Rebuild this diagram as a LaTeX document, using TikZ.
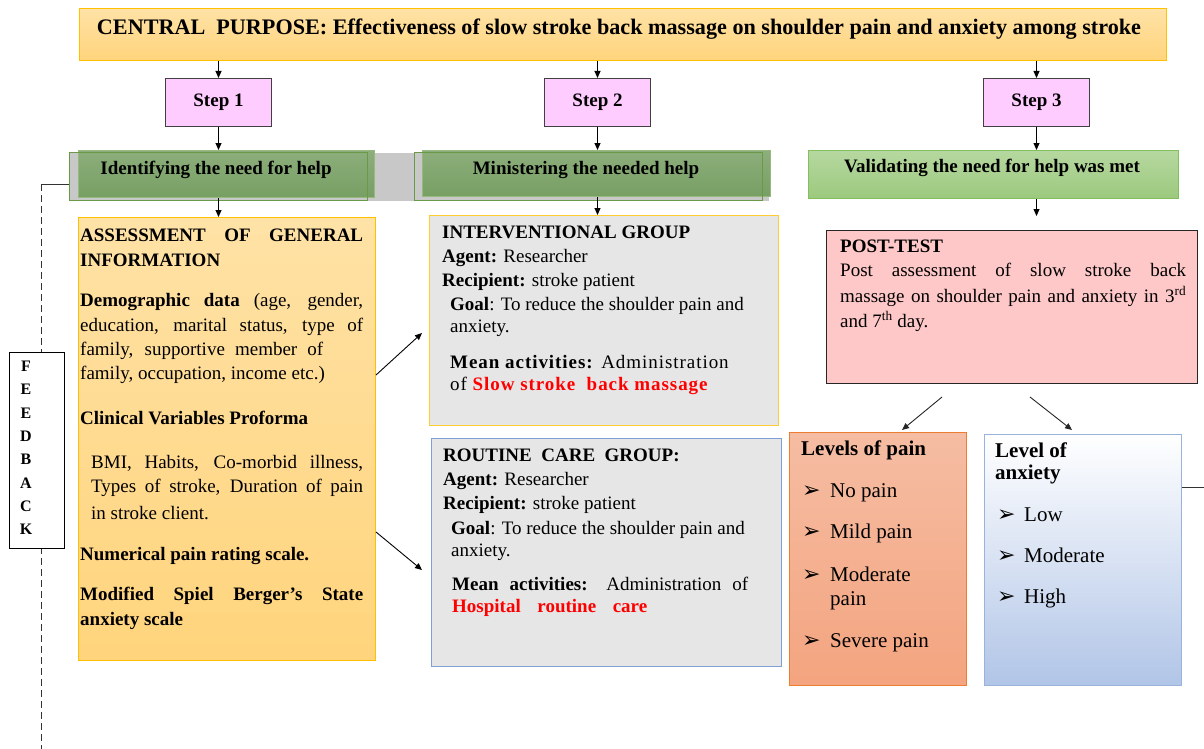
\documentclass[tikz,border=0pt]{standalone}
\usepackage{fontspec}
\setmainfont{Liberation Serif}
\newfontfamily\symfont{DejaVu Sans}
\newfontfamily\lspfont[LetterSpace=5]{Liberation Serif}
\usetikzlibrary{arrows.meta,calc}
\definecolor{orT}{HTML}{FFE2A6}
\definecolor{orB}{HTML}{FFD47C}
\definecolor{orLine}{HTML}{FFC000}
\definecolor{pinkFill}{HTML}{FFCCFF}
\definecolor{grT}{HTML}{8DAE7C}
\definecolor{grB}{HTML}{779F63}
\definecolor{grLine}{HTML}{6A9A48}
\definecolor{lgT}{HTML}{B6D8A0}
\definecolor{lgB}{HTML}{9CC97E}
\definecolor{lgLine}{HTML}{84BF5E}
\definecolor{band}{HTML}{C8C8C8}
\definecolor{greyFill}{HTML}{E6E6E6}
\definecolor{blueLine}{HTML}{7F9FD6}
\definecolor{postFill}{HTML}{FFC8C8}
\definecolor{painT}{HTML}{F5BDA3}
\definecolor{painB}{HTML}{F4A47F}
\definecolor{painLine}{HTML}{ED7D31}
\definecolor{anxB}{HTML}{B1C5E7}
\definecolor{anxLine}{HTML}{9AB3DD}
\definecolor{redTxt}{HTML}{FF0000}
\newcommand{\bodyfont}{\fontsize{19}{23}\selectfont}
\newcommand{\listfont}{\fontsize{21}{25}\selectfont}
\newcommand{\bul}{{\symfont\fontsize{22}{22}\selectfont ➢}}
\begin{document}
\begin{tikzpicture}[x=1pt,y=-1pt,
  box/.style={anchor=north west, inner sep=0pt, line width=1pt},
  txt/.style={anchor=base west, inner sep=0pt, font=\bodyfont},
  btxt/.style={anchor=base west, inner sep=0pt, font=\bodyfont\bfseries},
  ltxt/.style={anchor=base west, inner sep=0pt, font=\listfont},
  lbtxt/.style={anchor=base west, inner sep=0pt, font=\listfont\bfseries},
  ctxt/.style={anchor=center, inner sep=0pt, font=\bodyfont\bfseries},
  fbl/.style={anchor=base, inner sep=0pt, font=\fontsize{16}{16}\selectfont\bfseries},
  arr/.style={-{Triangle[length=7pt,width=6pt]}, line width=0.9pt, black}]
\useasboundingbox (0,0) rectangle (1204,749);
\fill[white] (0,0) rectangle (1204,749);

% top bar
\node[box, draw=orLine, top color=orT, bottom color=orB, minimum width=1087pt, minimum height=52pt] (top) at (79,8) {};
\node[anchor=center, inner sep=0pt] (toptxt) at (619,29) {\resizebox{1044pt}{!}{\fontsize{21}{24}\selectfont\bfseries CENTRAL\ \ PURPOSE:\ Effectiveness of slow stroke back massage on shoulder pain and anxiety among stroke}};

% steps
\node[box, draw=black!75, fill=pinkFill, minimum width=106pt, minimum height=48pt] (step1) at (165,78) {};
\node[box, draw=black!75, fill=pinkFill, minimum width=106pt, minimum height=48pt] (step2) at (544,78) {};
\node[box, draw=black!75, fill=pinkFill, minimum width=106pt, minimum height=48pt] (step3) at (983,78) {};
\node[ctxt] (s1t) at (step1.center) {Step 1};
\node[ctxt] (s2t) at (step2.center) {Step 2};
\node[ctxt] (s3t) at (step3.center) {Step 3};

% green band
\node[box, fill=band, minimum width=699pt, minimum height=48pt] (band) at (69,152) {};
\node[box, draw=grLine!70, top color=grT, bottom color=grB, minimum width=296pt, minimum height=47pt] (g1f) at (78,150) {};
\node[box, draw=grLine!70, top color=grT, bottom color=grB, minimum width=348pt, minimum height=46pt] (g2f) at (422,150) {};
\node[box, draw=grLine, minimum width=298pt, minimum height=48pt] (g1o) at (69,152) {};
\node[box, draw=grLine, minimum width=348pt, minimum height=48pt] (g2o) at (414,152) {};
\node[box, draw=lgLine, top color=lgT, bottom color=lgB, minimum width=370pt, minimum height=48pt] (g3) at (808,150) {};
\node[ctxt] (g1t) at (216,170) {Identifying the need for help};
\node[ctxt] (g2t) at (586,170) {Ministering the needed help};
\node[ctxt] (g3t) at (992,168) {Validating the need for help was met};

% main boxes
\node[box, draw=orLine, top color=orT, bottom color=orB, minimum width=297pt, minimum height=443pt] (leftbox) at (78,217) {};
\node[box, draw=orLine!80, fill=greyFill, minimum width=349pt, minimum height=210pt] (interv) at (429,215) {};
\node[box, draw=blueLine, fill=greyFill, minimum width=350pt, minimum height=228pt] (routine) at (431,438) {};
\node[box, draw=black!85, fill=postFill, minimum width=371pt, minimum height=153pt] (post) at (826,230) {};
\node[box, draw=painLine, top color=painT, bottom color=painB, minimum width=177pt, minimum height=253pt] (pain) at (789,432) {};
\node[box, draw=anxLine, top color=white, bottom color=anxB, minimum width=197pt, minimum height=251pt] (anx) at (984,434) {};

% feedback
\coordinate (fbstart) at ($(g1o.south west)+(0,-17)$);
\coordinate (fbcorner) at ($(fbstart)+(-28,0)$);
\coordinate (fbend) at (fbcorner |- 0,749);
\draw[line width=0.9pt, black!80] (g1o.west |- fbstart) -- (fbcorner);
\draw[line width=0.9pt, black!80, dash pattern=on 7pt off 4pt] (fbcorner) -- (fbend);
\node[box, draw=black, fill=white, minimum width=55pt, minimum height=196pt] (fb) at (9,352) {};
\node[fbl] (f1) at (26,371) {F};
\node[fbl] (f2) at (26,394) {E};
\node[fbl] (f3) at (26,418) {E};
\node[fbl] (f4) at (26,441) {D};
\node[fbl] (f5) at (26,464) {B};
\node[fbl] (f6) at (26,488) {A};
\node[fbl] (f7) at (26,511) {C};
\node[fbl] (f8) at (26,534) {K};

% arrows
\draw[arr] (top.south -| step1.north) -- (step1.north);
\draw[arr] (top.south -| step2.north) -- (step2.north);
\draw[arr] (top.south -| step3.north) -- (step3.north);
\draw[arr] (step1.south) -- (step1.south |- g1f.north);
\draw[arr] (step2.south) -- (step2.south |- g2f.north);
\draw[arr] (step3.south) -- (step3.south |- g3.north);
\draw[arr] (g1f.south -| step1.south) -- (leftbox.north -| step1.south);
\draw[arr] (g2f.south -| step2.south) -- (interv.north -| step2.south);
\coordinate (g3end) at ($(g3.south -| step3.south)+(0,17)$);
\draw[arr] (g3.south -| step3.south) -- (g3end);
\draw[arr] ($(leftbox.north east)+(0,158)$) -- ($(interv.north west)+(-7,118)$);
\draw[arr] ($(leftbox.north east)+(0,315)$) -- ($(routine.north west)+(-9,132)$);
\coordinate (ps1) at ($(post.south west)+(116,13)$);
\coordinate (ps2) at ($(post.south west)+(204,13)$);
\draw[arr, black!85] (ps1) -- ($(pain.north west)+(113,-2)$);
\draw[arr, black!85] (ps2) -- ($(anx.north west)+(88,-4)$);
\coordinate (anxout) at (1204,487);
\draw[line width=0.9pt, black!80] ($(anx.north east)+(0,53)$) -- (anxout);

% left box text
\node[btxt] (a1) at (80,241) {\makebox[283pt][s]{ASSESSMENT OF GENERAL}};
\node[btxt] (a2) at (80,266) {INFORMATION};
\node[txt] (a3) at (80,306) {\makebox[283pt][s]{\textbf{Demographic data} (age, gender,}};
\node[txt] (a4) at (80,331) {\makebox[283pt][s]{education, marital status, type of}};
\node[txt] (a5) at (80,355) {\makebox[243pt][s]{family, supportive member of}};
\node[txt] (a6) at (80,379) {family, occupation, income etc.)};
\node[btxt] (a7) at (80,424) {Clinical Variables Proforma};
\node[txt] (a8) at (91,468) {\makebox[272pt][s]{BMI, Habits, Co-morbid illness,}};
\node[txt] (a9) at (91,492) {\makebox[272pt][s]{Types of stroke, Duration of pain}};
\node[txt] (a10) at (91,519) {in stroke client.};
\node[btxt] (a11) at (80,560) {Numerical pain rating scale.};
\node[btxt] (a12) at (80,600) {\makebox[283pt][s]{Modified Spiel Berger’s State}};
\node[btxt] (a13) at (80,625) {anxiety scale};

% interventional text
\node[btxt] (i1) at (442,238) {INTERVENTIONAL GROUP};
\node[txt] (i2) at (442,262) {\textbf{Agent:} Researcher};
\node[txt] (i3) at (442,286) {\textbf{Recipient:} stroke patient};
\node[txt] (i4) at (450,310) {\textbf{Goal}: To reduce the shoulder pain and};
\node[txt] (i5) at (450,332) {anxiety.};
\node[txt] (i6) at (450,368) {\lspfont\textbf{Mean activities:} Administration};
\node[txt] (i7) at (450,390) {\lspfont of \textcolor{redTxt}{\textbf{Slow stroke\ \ back massage}}};

% routine text
\node[btxt] (r1) at (443,461) {ROUTINE\ \ CARE\ \ GROUP:};
\node[txt] (r2) at (443,485) {\textbf{Agent:} Researcher};
\node[txt] (r3) at (443,509) {\textbf{Recipient:} stroke patient};
\node[txt] (r4) at (451,534) {\textbf{Goal}: To reduce the shoulder pain and};
\node[txt] (r5) at (451,556) {anxiety.};
\node[txt] (r6) at (452,590) {\makebox[296pt][s]{\textbf{Mean activities:} Administration of}};
\node[txt] (r7) at (452,612) {\makebox[195pt][s]{\textcolor{redTxt}{\textbf{Hospital routine care}}}};

% post-test text
\node[btxt] (p1) at (840,252) {POST-TEST};
\node[txt] (p2) at (840,276) {\makebox[346pt][s]{Post assessment of slow stroke back}};
\node[txt] (p3) at (840,302) {\makebox[346pt][s]{massage on shoulder pain and anxiety in 3\textsuperscript{rd}}};
\node[txt] (p4) at (840,327) {and 7\textsuperscript{th} day.};

% pain text
\node[lbtxt] (lp) at (801,455) {Levels of pain};
\node[ltxt] (pt1) at (802,497) {\makebox[28pt][l]{\bul}No pain};
\node[ltxt] (pt2) at (802,538) {\makebox[28pt][l]{\bul}Mild pain};
\node[ltxt] (pt3) at (802,581) {\makebox[28pt][l]{\bul}Moderate};
\node[ltxt] (pt3b) at (830,605) {pain};
\node[ltxt] (pt4) at (802,647) {\makebox[28pt][l]{\bul}Severe pain};

% anxiety text
\node[lbtxt] (la1) at (995,457) {Level of};
\node[lbtxt] (la2) at (995,479) {anxiety};
\node[ltxt] (at1) at (997,521) {\makebox[27pt][l]{\bul}Low};
\node[ltxt] (at2) at (997,562) {\makebox[27pt][l]{\bul}Moderate};
\node[ltxt] (at3) at (997,603) {\makebox[27pt][l]{\bul}High};
\end{tikzpicture}
\end{document}
